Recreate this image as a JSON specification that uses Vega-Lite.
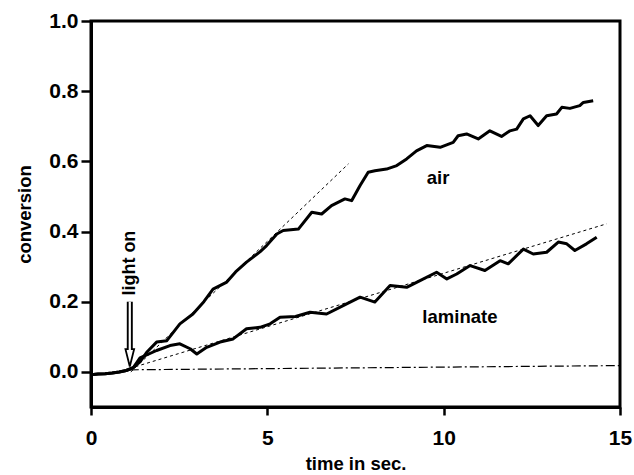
{
  "$schema": "https://vega.github.io/schema/vega-lite/v6.json",
  "width": 529,
  "height": 386,
  "autosize": {"type": "none"},
  "padding": {"left": 91, "top": 21, "right": 14, "bottom": 68},
  "background": "white",
  "config": {
    "view": {"stroke": "black", "strokeWidth": 3},
    "font": "Liberation Sans",
    "axis": {
      "grid": false,
      "domainColor": "black",
      "domainWidth": 3,
      "tickColor": "black",
      "tickWidth": 2.5,
      "labelColor": "black",
      "labelFont": "Liberation Sans",
      "labelFontSize": 21,
      "labelFontWeight": "bold",
      "labelFlush": false,
      "labelOverlap": false,
      "titleColor": "black",
      "titleFont": "Liberation Sans",
      "titleFontSize": 18.5,
      "titleFontWeight": "bold"
    }
  },
  "datasets": {
    "air": [
      {"t": 0.0, "c": -0.008}, {"t": 0.2, "c": -0.006}, {"t": 0.4, "c": -0.005},
      {"t": 0.6, "c": -0.003}, {"t": 0.8, "c": 0.0}, {"t": 1.0, "c": 0.004},
      {"t": 1.2, "c": 0.012}, {"t": 1.4, "c": 0.03}, {"t": 1.58, "c": 0.056},
      {"t": 1.86, "c": 0.085}, {"t": 2.15, "c": 0.089}, {"t": 2.52, "c": 0.137},
      {"t": 2.89, "c": 0.165}, {"t": 3.2, "c": 0.2}, {"t": 3.46, "c": 0.236},
      {"t": 3.85, "c": 0.256}, {"t": 4.1, "c": 0.285}, {"t": 4.41, "c": 0.313},
      {"t": 4.79, "c": 0.342}, {"t": 4.98, "c": 0.36}, {"t": 5.27, "c": 0.393},
      {"t": 5.45, "c": 0.403}, {"t": 5.88, "c": 0.407}, {"t": 6.26, "c": 0.455},
      {"t": 6.54, "c": 0.45}, {"t": 6.82, "c": 0.474}, {"t": 7.2, "c": 0.493},
      {"t": 7.39, "c": 0.488}, {"t": 7.63, "c": 0.531}, {"t": 7.86, "c": 0.569},
      {"t": 8.05, "c": 0.573}, {"t": 8.38, "c": 0.578}, {"t": 8.67, "c": 0.588},
      {"t": 8.95, "c": 0.607}, {"t": 9.23, "c": 0.63}, {"t": 9.52, "c": 0.645},
      {"t": 9.9, "c": 0.64}, {"t": 10.27, "c": 0.654}, {"t": 10.41, "c": 0.673},
      {"t": 10.65, "c": 0.678}, {"t": 10.98, "c": 0.664}, {"t": 11.31, "c": 0.687},
      {"t": 11.64, "c": 0.671}, {"t": 11.88, "c": 0.687}, {"t": 12.07, "c": 0.692},
      {"t": 12.26, "c": 0.721}, {"t": 12.45, "c": 0.73}, {"t": 12.68, "c": 0.702},
      {"t": 12.92, "c": 0.73}, {"t": 13.2, "c": 0.735}, {"t": 13.35, "c": 0.754},
      {"t": 13.58, "c": 0.751}, {"t": 13.86, "c": 0.759}, {"t": 13.96, "c": 0.768},
      {"t": 14.24, "c": 0.773}
    ],
    "laminate": [
      {"t": 0.0, "c": -0.008}, {"t": 0.2, "c": -0.006}, {"t": 0.4, "c": -0.005},
      {"t": 0.6, "c": -0.003}, {"t": 0.8, "c": 0.0}, {"t": 1.0, "c": 0.004},
      {"t": 1.2, "c": 0.012}, {"t": 1.39, "c": 0.04}, {"t": 1.86, "c": 0.061},
      {"t": 2.24, "c": 0.075}, {"t": 2.52, "c": 0.08}, {"t": 2.81, "c": 0.066},
      {"t": 3.0, "c": 0.051}, {"t": 3.28, "c": 0.07}, {"t": 3.66, "c": 0.085},
      {"t": 4.03, "c": 0.094}, {"t": 4.41, "c": 0.123}, {"t": 4.79, "c": 0.127},
      {"t": 5.08, "c": 0.137}, {"t": 5.36, "c": 0.156}, {"t": 5.8, "c": 0.158},
      {"t": 6.21, "c": 0.17}, {"t": 6.68, "c": 0.165}, {"t": 7.15, "c": 0.189},
      {"t": 7.63, "c": 0.213}, {"t": 8.05, "c": 0.199}, {"t": 8.48, "c": 0.246},
      {"t": 8.95, "c": 0.241}, {"t": 9.33, "c": 0.26}, {"t": 9.8, "c": 0.284},
      {"t": 10.09, "c": 0.265}, {"t": 10.37, "c": 0.279}, {"t": 10.75, "c": 0.303},
      {"t": 11.17, "c": 0.289}, {"t": 11.6, "c": 0.317}, {"t": 11.83, "c": 0.308},
      {"t": 12.26, "c": 0.35}, {"t": 12.54, "c": 0.336}, {"t": 12.92, "c": 0.341},
      {"t": 13.25, "c": 0.37}, {"t": 13.49, "c": 0.365}, {"t": 13.72, "c": 0.346},
      {"t": 14.05, "c": 0.365}, {"t": 14.34, "c": 0.384}
    ],
    "fits": [
      {"fit": "air", "t": 1.13, "c": 0.0},
      {"fit": "air", "t": 7.3, "c": 0.593},
      {"fit": "laminate", "t": 1.1, "c": 0.01},
      {"fit": "laminate", "t": 14.62, "c": 0.422}
    ],
    "baseline": [
      {"t": 1.1, "c": 0.006},
      {"t": 15.0, "c": 0.018}
    ],
    "arrow": [
      {"t": 1.1, "top": 0.2, "neck": 0.06, "head": 0.04}
    ],
    "labels": [
      {"t": 9.84, "c": 0.553, "text": "air"},
      {"t": 10.46, "c": 0.156, "text": "laminate"}
    ],
    "vlabels": [
      {"t": 1.1, "c": 0.31, "text": "light on"}
    ]
  },
  "layer": [
    {
      "data": {"name": "baseline"},
      "mark": {"type": "line", "color": "black", "strokeWidth": 1.2, "strokeDash": [9, 3, 2, 3]},
      "encoding": {
        "x": {"field": "t", "type": "quantitative",
              "scale": {"domain": [0, 15], "nice": false},
              "axis": {"values": [0, 5, 10, 15], "format": "d", "tickSize": 8,
                       "labelPadding": 12, "title": "time in sec.", "titlePadding": 6}},
        "y": {"field": "c", "type": "quantitative",
              "scale": {"domain": [-0.1, 1.0], "nice": false, "zero": false},
              "axis": {"values": [0, 0.2, 0.4, 0.6, 0.8, 1.0], "format": ".1f", "tickSize": 10,
                       "labelPadding": 3, "title": "conversion", "titlePadding": 14}}
      }
    },
    {
      "data": {"name": "fits"},
      "mark": {"type": "line", "color": "black", "strokeWidth": 1, "strokeDash": [3, 3]},
      "encoding": {
        "x": {"field": "t", "type": "quantitative"},
        "y": {"field": "c", "type": "quantitative"},
        "detail": {"field": "fit"}
      }
    },
    {
      "data": {"name": "air"},
      "mark": {"type": "line", "color": "black", "strokeWidth": 3, "strokeJoin": "round"},
      "encoding": {
        "x": {"field": "t", "type": "quantitative"},
        "y": {"field": "c", "type": "quantitative"}
      }
    },
    {
      "data": {"name": "laminate"},
      "mark": {"type": "line", "color": "black", "strokeWidth": 3, "strokeJoin": "round"},
      "encoding": {
        "x": {"field": "t", "type": "quantitative"},
        "y": {"field": "c", "type": "quantitative"}
      }
    },
    {
      "data": {"name": "arrow"},
      "mark": {"type": "rule", "color": "black", "strokeWidth": 6},
      "encoding": {
        "x": {"field": "t", "type": "quantitative"},
        "y": {"field": "top", "type": "quantitative"},
        "y2": {"field": "neck"}
      }
    },
    {
      "data": {"name": "arrow"},
      "mark": {"type": "point", "shape": "M -0.5 -1 L 0.5 -1 L 0 1 Z", "size": 300,
               "filled": true, "fill": "white", "stroke": "black", "strokeWidth": 1.8, "opacity": 1},
      "encoding": {
        "x": {"field": "t", "type": "quantitative"},
        "y": {"field": "head", "type": "quantitative"}
      }
    },
    {
      "data": {"name": "arrow"},
      "mark": {"type": "rule", "color": "white", "strokeWidth": 2.2},
      "encoding": {
        "x": {"field": "t", "type": "quantitative"},
        "y": {"field": "top", "type": "quantitative"},
        "y2": {"field": "neck"}
      }
    },
    {
      "data": {"name": "labels"},
      "mark": {"type": "text", "font": "Liberation Sans", "fontWeight": "bold", "fontSize": 18.5,
               "color": "black", "align": "center", "baseline": "middle"},
      "encoding": {
        "x": {"field": "t", "type": "quantitative"},
        "y": {"field": "c", "type": "quantitative"},
        "text": {"field": "text"}
      }
    },
    {
      "data": {"name": "vlabels"},
      "mark": {"type": "text", "font": "Liberation Sans", "fontWeight": "bold", "fontSize": 18,
               "color": "black", "align": "center", "baseline": "middle", "angle": 270},
      "encoding": {
        "x": {"field": "t", "type": "quantitative"},
        "y": {"field": "c", "type": "quantitative"},
        "text": {"field": "text"}
      }
    }
  ]
}
